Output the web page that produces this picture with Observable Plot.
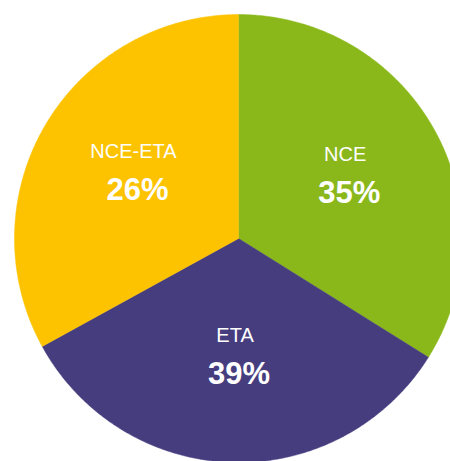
<!DOCTYPE html>
<html>
<head>
<meta charset="utf-8">
<script src="https://cdn.jsdelivr.net/npm/d3@7"></script>
<script src="https://cdn.jsdelivr.net/npm/@observablehq/plot@0.6"></script>
<style>
  html, body { margin: 0; padding: 0; background: #ffffff; overflow: hidden; }
  #chart { width: 450px; height: 461px; }
</style>
</head>
<body>
<div id="chart"></div>
<script>
// Data
const categories = ["NCE", "ETA", "NCE-ETA"];
const sliceValues = [33.9, 33.1, 33.0];      // visible slice sizes (share of the circle)
const percentLabels = ["35%", "39%", "26%"]; // percentages printed on the slices
const colors = ["#8ab81b", "#463d7f", "#fdc300"];

const R = 224;          // pie radius in scale units
const labelR = 122;     // label anchor radius

const pie = d3.pie().sort(null).value(d => d.value);
const arcs = pie(categories.map((name, i) => ({name, value: sliceValues[i], pct: percentLabels[i], color: colors[i]})));

// Polygon outline for each slice (angles measured clockwise from 12 o'clock)
const slices = arcs.map(a => {
  const n = 240;
  const pts = [{x: 0, y: 0}];
  for (let k = 0; k <= n; k++) {
    const t = a.startAngle + (a.endAngle - a.startAngle) * k / n;
    pts.push({x: R * Math.sin(t), y: -R * Math.cos(t)});
  }
  pts.push({x: 0, y: 0});
  return {name: a.data.name, color: a.data.color, pts};
});

const labels = arcs.map(a => {
  const m = (a.startAngle + a.endAngle) / 2;
  return {name: a.data.name, pct: a.data.pct, x: labelR * Math.sin(m), y: -labelR * Math.cos(m) + 5};
});

const font = "'Liberation Sans', Arial, Helvetica, sans-serif";

const chart = Plot.plot({
  width: 450,
  height: 461,
  margin: 0,
  style: {background: "#ffffff", fontFamily: font, overflow: "hidden"},
  x: {domain: [-238, 212], range: [0, 450], axis: null},
  y: {domain: [-238, 223], range: [0, 461], axis: null},
  marks: [
    ...slices.map(s => Plot.line(s.pts, {x: "x", y: "y", fill: s.color, stroke: s.color, strokeWidth: 0.5, curve: "linear", clip: true})),
    Plot.text(labels, {x: "x", y: "y", text: "name", fill: "#ffffff", fontSize: 20, fontFamily: font, dy: -30}),
    Plot.text(labels, {x: "x", y: "y", text: "pct", fill: "#ffffff", fontSize: 31, fontWeight: "bold", fontFamily: font, dy: 9, dx: 4})
  ]
});

document.getElementById("chart").appendChild(chart);
</script>
</body>
</html>
